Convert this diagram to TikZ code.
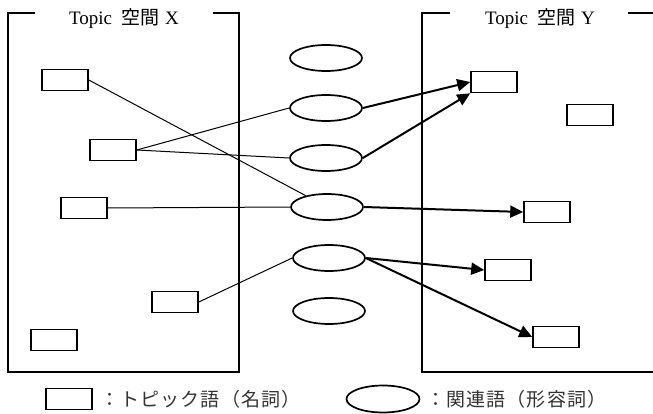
\documentclass[tikz,border=0pt]{standalone}
\usepackage{fontspec}
\setmainfont{Liberation Serif}
\newfontfamily\jp{Noto Sans CJK JP}
\newfontfamily\jpleg[LetterSpace=6]{Noto Sans CJK JP}
\usetikzlibrary{shapes.geometric,arrows.meta}
\tikzset{
  tw/.style={draw,rectangle,minimum width=46pt,minimum height=21pt,inner sep=0pt,line width=1.6pt},
  rw/.style={draw,ellipse,minimum width=72pt,minimum height=26pt,inner sep=0pt,line width=1.7pt},
  frame/.style={line width=2pt},
  thin link/.style={line width=1pt},
  map/.style={line width=2pt,-{Triangle[length=13pt,width=12pt]}},
  lbl/.style={font=\fontsize{19pt}{21pt}\selectfont,inner sep=0pt},
  leg/.style={font=\jpleg\fontsize{19pt}{21pt}\selectfont,text=black!80,inner sep=0pt,anchor=west}
}
\begin{document}
\begin{tikzpicture}[x=1pt,y=-1pt]
\useasboundingbox (0,0) rectangle (653,414);
% containers
\coordinate (xa) at (35,13);
\coordinate (xb) at (8,13);
\coordinate (xc) at (8,372);
\coordinate (xd) at (239,372);
\coordinate (xe) at (239,13);
\coordinate (xf) at (213,13);
\draw[frame] (xa) -- (xb) -- (xc) -- (xd) -- (xe) -- (xf);
\node[lbl] (lx) at (124,19) {Topic\hspace{9pt}{\jp 空間}\hspace{6pt}X};
\coordinate (ya) at (450,13);
\coordinate (yb) at (422,13);
\coordinate (yc) at (422,372);
\coordinate (yd) at (655,372);
\coordinate (ye) at (628,13);
\coordinate (yf) at (655,13);
\draw[frame] (ya) -- (yb) -- (yc) -- (yd);
\draw[frame] (ye) -- (yf);
\node[lbl] (ly) at (540,19) {Topic\hspace{9pt}{\jp 空間}\hspace{6pt}Y};
% left topic words
\node[tw] (R1) at (65,80) {};
\node[tw] (R2) at (113,150) {};
\node[tw] (R3) at (84,208) {};
\node[tw] (R4) at (175,302) {};
\node[tw] (R5) at (54,340) {};
% related words
\node[rw] (E1) at (326,58) {};
\node[rw] (E2) at (326,108) {};
\node[rw] (E3) at (326,158) {};
\node[rw] (E4) at (327,207) {};
\node[rw] (E5) at (329,258) {};
\node[rw] (E6) at (329,311) {};
% right topic words
\node[tw] (Q1) at (494,82) {};
\node[tw] (Q2) at (590,115) {};
\node[tw] (Q3) at (547,212) {};
\node[tw] (Q4) at (508,270) {};
\node[tw] (Q5) at (556,337) {};
% thin links
\draw[thin link] (R1.east) -- (E4);
\draw[thin link] (R2.east) -- (E2.west);
\draw[thin link] (R2.east) -- (E3.west);
\draw[thin link] (R3.east) -- (E4.west);
\draw[thin link] (R4.east) -- (E5.west);
% arrows
\draw[map] (E2.east) -- (Q1.west);
\draw[map] (E3.east) -- (Q1.south west);
\draw[map] (E4.east) -- (Q3.west);
\draw[map] (E5.east) -- (Q4.west);
\draw[map] (E5.east) -- (Q5.west);
% legend
\node[tw] (LR) at (69,399) {};
\node[leg] (LRt) at (100,399) {：トピック語（名詞）};
\node[rw,minimum width=73pt,minimum height=27pt] (LE) at (383,399) {};
\node[leg] (LEt) at (426,399) {：関連語（形容詞）};
\end{tikzpicture}
\end{document}
